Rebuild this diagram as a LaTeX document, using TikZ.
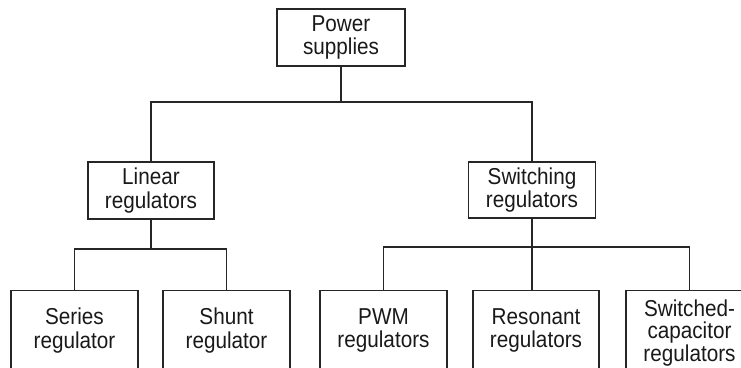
\documentclass[tikz,border=0pt]{standalone}
\usepackage{fontspec}
\setmainfont[FakeStretch=0.9]{Liberation Sans}
\begin{document}
\begin{tikzpicture}[x=1pt,y=-1pt,
  box/.style={draw=black!85, line width=1.1pt, align=center, inner sep=0pt,
    font={\fontsize{23}{23.5}\selectfont}, text=black!90},
  link/.style={draw=black!85, line width=1.1pt},
]
\useasboundingbox (0,0) rectangle (741,367);
\clip (0,0) rectangle (741,367);
% top level
\node[box, minimum width=128pt, minimum height=57pt] (ps) at (341,37.5) {Power\\supplies};
% middle level
\node[box, minimum width=126pt, minimum height=57pt] (lin) at (151,190.5) {Linear\\regulators};
\node[box, minimum width=127pt, minimum height=56pt] (sw) at (532,190) {Switching\\regulators};
% bottom level
\node[box, minimum width=127pt, minimum height=80pt, anchor=north] (ser) at (74.5,290) {Series\\regulator};
\node[box, minimum width=127pt, minimum height=80pt, anchor=north] (shu) at (226.5,290) {Shunt\\regulator};
\node[box, minimum width=127pt, minimum height=80pt, anchor=north] (pwm) at (383.5,290) {PWM\\regulators};
\node[box, minimum width=126pt, minimum height=80pt, anchor=north] (res) at (536,290) {Resonant\\regulators};
\node[box, minimum width=127pt, minimum height=84pt, anchor=north, font={\fontsize{23}{22.5}\selectfont}] (swc) at (689.5,290) {Switched-\\capacitor\\regulators};
% junctions
\coordinate (j1) at (341,102);
\coordinate (j2) at (151,249);
\coordinate (h3) at (0,247);
\coordinate (j3) at (sw.south |- h3);
% connectors
\draw[link] (ps.south) -- (j1);
\draw[link] (lin.north) |- (j1) -| (sw.north);
\draw[link] (lin.south) -- (j2);
\draw[link] (ser.north) |- (j2) -| (shu.north);
\draw[link] (sw.south) -- (sw.south |- res.north);
\draw[link] (pwm.north) |- (j3) -| (swc.north);
\end{tikzpicture}
\end{document}
